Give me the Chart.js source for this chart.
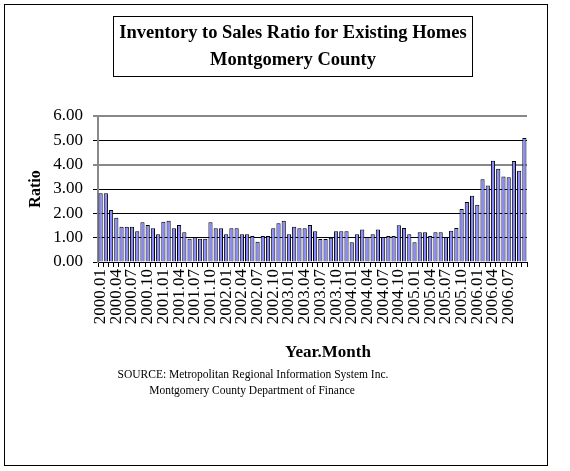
<!DOCTYPE html>
<html><head><meta charset="utf-8">
<script src="https://cdn.jsdelivr.net/npm/chart.js@4.4.0/dist/chart.umd.min.js"></script>
<style>html,body{margin:0;padding:0;background:#fff;}#wrap{width:570px;height:471px;}</style>
</head><body><div id="wrap"><canvas id="c" width="570" height="471"></canvas></div>
<script>
const categories = [
 '2000.01','2000.02','2000.03','2000.04','2000.05','2000.06','2000.07','2000.08','2000.09','2000.10','2000.11','2000.12',
 '2001.01','2001.02','2001.03','2001.04','2001.05','2001.06','2001.07','2001.08','2001.09','2001.10','2001.11','2001.12',
 '2002.01','2002.02','2002.03','2002.04','2002.05','2002.06','2002.07','2002.08','2002.09','2002.10','2002.11','2002.12',
 '2003.01','2003.02','2003.03','2003.04','2003.05','2003.06','2003.07','2003.08','2003.09','2003.10','2003.11','2003.12',
 '2004.01','2004.02','2004.03','2004.04','2004.05','2004.06','2004.07','2004.08','2004.09','2004.10','2004.11','2004.12',
 '2005.01','2005.02','2005.03','2005.04','2005.05','2005.06','2005.07','2005.08','2005.09','2005.10','2005.11','2005.12',
 '2006.01','2006.02','2006.03','2006.04','2006.05','2006.06','2006.07','2006.08','2006.09','2006.10'
];
const tickLabels = [
 '2000.01','2000.04','2000.07','2000.10','2001.01','2001.04','2001.07','2001.10','2002.01','2002.04','2002.07','2002.10',
 '2003.01','2003.04','2003.07','2003.10','2004.01','2004.04','2004.07','2004.10','2005.01','2005.04','2005.07','2005.10',
 '2006.01','2006.04','2006.07'
];
const ratio2000 = [2.83, 2.83, 2.14, 1.82, 1.45, 1.45, 1.45, 1.26, 1.63, 1.52, 1.39, 1.14];
const ratio2001 = [1.65, 1.70, 1.39, 1.52, 1.22, 0.96, 1.02, 0.96, 0.96, 1.63, 1.39, 1.39];
const ratio2002 = [1.14, 1.39, 1.39, 1.14, 1.14, 1.07, 0.83, 1.07, 1.07, 1.39, 1.59, 1.70];
const ratio2003 = [1.14, 1.45, 1.39, 1.39, 1.52, 1.26, 0.95, 0.95, 1.00, 1.26, 1.26, 1.26];
const ratio2004 = [0.81, 1.14, 1.34, 1.03, 1.14, 1.34, 1.03, 1.07, 1.07, 1.51, 1.40, 1.14];
const ratio2005 = [0.81, 1.22, 1.22, 1.07, 1.22, 1.22, 1.03, 1.28, 1.40, 2.18, 2.47, 2.72];
const ratio2006 = [2.35, 3.40, 3.14, 4.16, 3.83, 3.51, 3.48, 4.15, 3.75, 5.10];
const ratio = [].concat(ratio2000, ratio2001, ratio2002, ratio2003, ratio2004, ratio2005, ratio2006);
const yTicks = [0, 1, 2, 3, 4, 5, 6];

const titleLines = ['Inventory to Sales Ratio for Existing Homes', 'Montgomery County'];
const xTitle = 'Year.Month';
const yTitle = 'Ratio';
const sourceLines = ['SOURCE: Metropolitan Regional Information System Inc.', 'Montgomery County Department of Finance'];

const serif = '"Liberation Serif", "Times New Roman", serif';

const decor = {
  id: 'decor',
  afterDraw(chart) {
    const ctx = chart.ctx;
    ctx.save();
    ctx.strokeStyle = '#000';
    ctx.lineWidth = 1;
    ctx.strokeRect(4.5, 4.5, 543, 461);
    ctx.strokeRect(113.5, 16.5, 359, 60);
    ctx.fillStyle = '#000';
    ctx.textAlign = 'center';
    ctx.textBaseline = 'middle';
    ctx.font = 'bold 18.5px ' + serif;
    ctx.fillText(titleLines[0], 293, 33);
    ctx.fillText(titleLines[1], 293, 60);
    ctx.font = 'bold 17px ' + serif;
    ctx.fillText(xTitle, 328, 353);
    ctx.font = '11.5px ' + serif;
    ctx.fillText(sourceLines[0], 253, 375);
    ctx.fillText(sourceLines[1], 252, 391);
    ctx.restore();
  }
};

new Chart(document.getElementById('c'), {
  type: 'bar',
  data: {
    labels: categories,
    datasets: [{
      label: 'Ratio', data: ratio,
      backgroundColor: '#8888FF', borderColor: '#000', borderWidth: 1,
      barPercentage: 1, categoryPercentage: 0.8
    }]
  },
  options: {
    responsive: false, animation: false, devicePixelRatio: 1,
    layout: { padding: { left: 26, top: 116, right: 43, bottom: 110 } },
    plugins: { legend: { display: false }, tooltip: { enabled: false }, title: { display: false } },
    scales: {
      x: {
        grid: { drawOnChartArea: false, drawTicks: true, tickLength: 5, color: '#000', offset: true },
        border: { color: '#000', width: 1 },
        ticks: {
          autoSkip: false, maxRotation: 90, minRotation: 90, padding: 2, color: '#000',
          font: { family: serif, size: 17 },
          callback: (v, i) => (tickLabels.includes(categories[i]) ? categories[i] : '')
        },
        afterFit: s => { s.height = 99; }
      },
      y: {
        min: 0, max: 6,
        afterBuildTicks: s => { s.ticks = yTicks.map(v => ({ value: v })); },
        ticks: { padding: 10, color: '#000', font: { family: serif, size: 17 }, callback: v => Number(v).toFixed(2) },
        grid: {
          color: c => (c.tick && (c.tick.value === 4 || c.tick.value === 6)) ? '#888' : '#000',
          lineWidth: c => (c.tick && (c.tick.value === 4 || c.tick.value === 6)) ? 2 : 1,
          tickLength: 5
        },
        border: { color: '#888', width: 2 },
        title: { display: true, text: yTitle, color: '#000', padding: 0, font: { family: serif, size: 16, weight: 'bold' } },
        afterFit: s => { s.width = 72; }
      }
    }
  },
  plugins: [decor]
});
</script>
</body></html>
